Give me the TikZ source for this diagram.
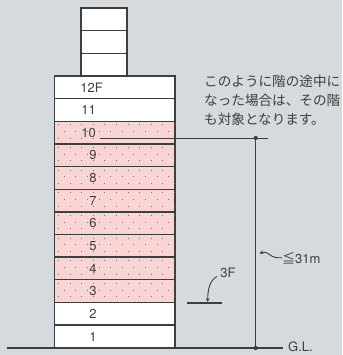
\documentclass[tikz,border=0pt]{standalone}
\usepackage{fontspec}
\setmainfont{TeX Gyre Heros}
\newfontfamily\cjk{Noto Sans CJK JP}
\usetikzlibrary{arrows.meta}
\definecolor{bg}{RGB}{212,218,221}
\definecolor{pinkfloor}{RGB}{249,212,212}
\definecolor{ink}{RGB}{62,62,62}
\definecolor{dotgray}{RGB}{120,110,110}
\tikzset{
  floorbox/.style={draw=ink,line width=1.3pt,minimum width=120.5pt,minimum height=22.64pt,inner sep=0pt},
  topbox/.style={draw=ink,line width=1.2pt,fill=white,minimum width=46pt,minimum height=22.67pt,inner sep=0pt},
  floorlabel/.style={font=\fontsize{13}{15}\selectfont,text=ink,inner sep=0pt},
  notetext/.style={font=\cjk\fontsize{13.6}{19}\selectfont,text=ink,inner sep=0pt,anchor=base west},
  dimline/.style={draw=ink,line width=0.9pt}
}
\begin{document}
\begin{tikzpicture}[x=1pt,y=-1pt]
\fill[bg] (0,0) rectangle (342,355);
\useasboundingbox (0,0) rectangle (342,355);
% penthouse
\foreach \i in {1,2,3}{
  \pgfmathsetmacro\yc{8+(\i-0.5)*22.67}
  \node (p\i) [topbox] at (104,\yc) {};
}
% floors
\foreach \i in {1,...,12}{
  \pgfmathsetmacro\yc{347.7-(\i-0.5)*22.64}
  \def\fc{white}
  \ifnum\i>2 \ifnum\i<11 \def\fc{pinkfloor}\fi\fi
  \node (f\i) [floorbox,fill=\fc] at (114.75,\yc) {};
}
% dots on the pink floors
\foreach \i in {3,...,10}{
  \begin{scope}
  \clip ([shift={(0.7,0.7)}]f\i.north west) rectangle ([shift={(-0.7,-0.7)}]f\i.south east);
  \pgfmathsetmacro\yt{347.7-\i*22.64}
  \foreach \r/\o in {3.2/0,9.8/5.8,16.4/0}{
    \foreach \c in {0,...,10}{
      \fill[dotgray] (58+\o+\c*11.6,\yt+\r) rectangle +(1,1);
    }
  }
  \end{scope}
}
% floor labels
\foreach \i in {1,...,9}{
  \node (l\i) [floorlabel,anchor=base] at (93,{347.7-(\i-0.5)*22.64+4.7}) {\i};
}
\node (l10) [floorlabel,anchor=base east] at (96,{347.7-9.5*22.64+4.7}) {10};
\node (l11) [floorlabel,anchor=base east] at (96,{347.7-10.5*22.64+4.7}) {11};
\node (l12) [floorlabel,anchor=base east] at (95,{347.7-11.5*22.64+4.7}) {12\rlap{F}};
% note
\node (n1) [notetext] at (204,86.2) {このように階の途中に};
\node (n2) [notetext] at (204,105.2) {なった場合は、その階};
\node (n3) [notetext] at (204,124.2) {も対象となります。};
% ground line
\coordinate (gl) at (7,348);
\coordinate (gr) at (283,348);
\draw[ink,line width=1.2pt] (gl) -- (gr);
\node (gname) [floorlabel,anchor=base west] at (288,351) {G.L.};
% height of 31m
\coordinate (hs) at (100,138);
\coordinate (he) at (268,138);
\coordinate (dtop) at (255.7,138);
\coordinate (dbot) at (255.7,348);
\draw[dimline] (hs) -- (he);
\draw[dimline] (dtop) -- (dbot);
\fill[ink] (dtop) circle (2.1);
\fill[ink] (dbot) circle (2.1);
\node (hval) [floorlabel,anchor=base west] at (282,263) {{\cjk ≦}31m};
\coordinate (wtip) at (259.5,253.5);
\draw[dimline,-{Stealth[length=4pt,width=3.5pt]}] (hval.west) .. controls (277,258) and (273,257.5) .. (269.5,254.5)
  .. controls (266.5,252) and (263,252) .. (wtip);
% 3F mark
\coordinate (m3a) at (187.3,303);
\coordinate (m3b) at (221.7,303);
\draw[ink,line width=1.2pt] (m3a) -- (m3b);
\node (lab3f) [floorlabel] at (228,273) {3F};
\coordinate (m3tip) at (207.7,302);
\draw[dimline,-{Stealth[length=4pt,width=3.5pt]}] (217,276.5) .. controls (210,280) and (207.7,289) .. (m3tip);
\end{tikzpicture}
\end{document}
